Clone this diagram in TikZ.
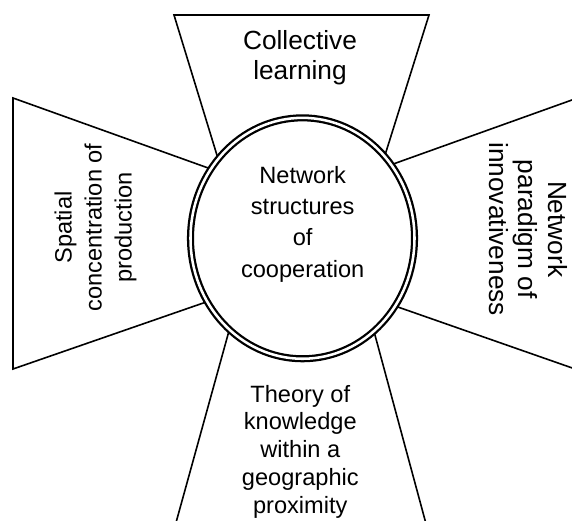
\documentclass[tikz,border=0pt]{standalone}
\usepackage{fontspec}
\setmainfont{Liberation Sans}
\usetikzlibrary{shapes.geometric}
\begin{document}
\begin{tikzpicture}[x=0.75pt,y=-0.75pt,line join=miter,
  trap/.style={draw=black,line width=1.2pt,fill=white},
  ring/.style={ellipse,draw=black,line width=1.7pt,double=white,double distance=1.9pt,fill=white,inner sep=0pt,minimum width=168pt,minimum height=180.7pt},
  bigtxt/.style={align=center,inner sep=0pt,font=\fontsize{19.7pt}{22.4pt}\selectfont},
  smalltxt/.style={align=center,inner sep=0pt,font=\fontsize{17.7pt}{22.5pt}\selectfont}]
\useasboundingbox (0,0) rectangle (572,521);
\clip (0,0) rectangle (572,521);
% trapezoids
\draw[trap] (230.7,200) -- (174,15) -- (429,15) -- (370.9,200);
\draw[trap] (250,183) -- (13,98) -- (13,369) -- (250,286.8);
\draw[trap] (355,177.7) -- (592,92.8) -- (592,374.9) -- (355,292);
\draw[trap] (240.3,290) -- (171.2,540) -- (430.4,540) -- (362.8,290);
% central ring
\node[ring] (c) at (302.5,238.3) {};
% texts
\node[bigtxt] (top) at (300,57.5) {Collective\\learning};
\node[bigtxt,rotate=-90] (right) at (528.3,229.2) {Network\\paradigm of\\innovativeness};
\node[smalltxt,rotate=90] (left) at (95.5,227.5) {Spatial\\concentration of\\production};
\node[smalltxt,font=\fontsize{17.7pt}{23.5pt}\selectfont] (ctext) at (302.7,224) {Network\\structures\\of\\cooperation};
\node[smalltxt,font=\fontsize{17.7pt}{20.8pt}\selectfont] (bottom) at (300.3,451.5) {Theory of\\knowledge\\within a\\geographic\\proximity};
\end{tikzpicture}
\end{document}
